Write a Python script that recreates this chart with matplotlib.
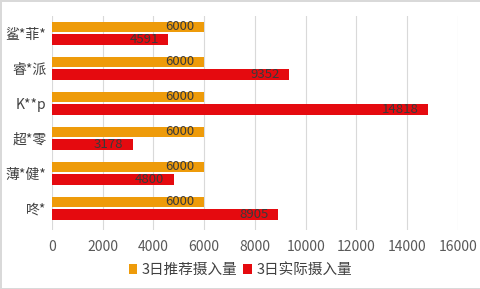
import matplotlib
matplotlib.use("Agg")
import matplotlib.pyplot as plt
import numpy as np

plt.rcParams['font.family'] = ['Noto Sans CJK SC', 'DejaVu Sans']

# data
categories = ['鲨*菲*', '睿*派', 'K**p', '超*零', '薄*健*', '咚*']
recommended = [6000, 6000, 6000, 6000, 6000, 6000]
actual = [4591, 9352, 14818, 3178, 4800, 8905]
series_names = ['3日推荐摄入量', '3日实际摄入量']

orange = '#EE9B0A'
red = '#E50A0F'

fig = plt.figure(figsize=(4.81, 2.89), dpi=100)
fig.patch.set_edgecolor('#d9d9d9')
fig.patch.set_linewidth(2)
ax = fig.add_axes([0.108, 0.204, 0.844, 0.741])

y = np.arange(len(categories))
h = 0.3
b1 = ax.barh(y - 0.175, recommended, height=h, color=orange, label=series_names[0], zorder=3)
b2 = ax.barh(y + 0.185, actual, height=h + 0.02, color=red, label=series_names[1], zorder=3)

for bars, vals in ((b1, recommended), (b2, actual)):
    for bar, v in zip(bars, vals):
        ax.text(v - 380, bar.get_y() + bar.get_height() / 2, str(v),
                ha='right', va='center', fontsize=9.5, color='#3a3a3a', zorder=4)

ax.set_xlim(0, 16000)
ax.set_ylim(5.63, -0.49)
ax.set_xticks(range(0, 16001, 2000))
ax.set_yticks(y)
ax.set_yticklabels(categories, fontsize=10, color='#404040')
ax.tick_params(axis='x', labelsize=10, colors='#595959', length=0, pad=7)
ax.tick_params(axis='y', length=0, pad=4)
ax.grid(axis='x', color='#d9d9d9', linewidth=0.8, zorder=0)
for s in ax.spines.values():
    s.set_visible(False)

ax.legend(loc='center', bbox_to_anchor=(0.5, 0.065), bbox_transform=fig.transFigure,
          ncol=2, frameon=False, fontsize=10.5, handlelength=0.6, handleheight=0.6,
          handletextpad=0.3, columnspacing=0.4, labelcolor='#404040')

fig.savefig('out.png', dpi=100)
